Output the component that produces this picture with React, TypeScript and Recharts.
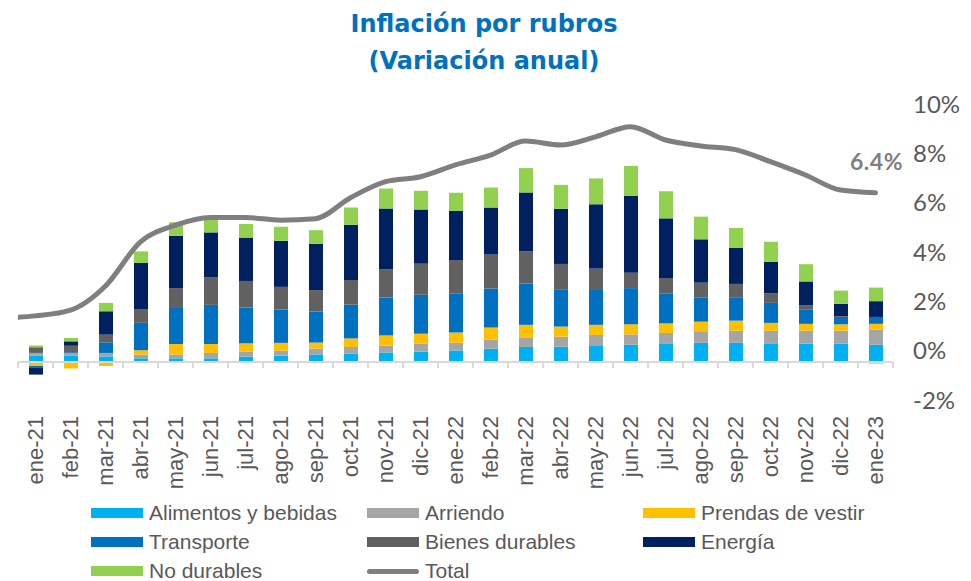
import React from 'react';
import {
  ComposedChart,
  Bar,
  Line,
  XAxis,
  YAxis,
  ReferenceLine,
  Legend,
  LabelList,
} from 'recharts';

const categories = ['ene-21','feb-21','mar-21','abr-21','may-21','jun-21','jul-21','ago-21','sep-21','oct-21','nov-21','dic-21','ene-22','feb-22','mar-22','abr-22','may-22','jun-22','jul-22','ago-22','sep-22','oct-22','nov-22','dic-22','ene-23'];

const alimentos = [0.25,0.27,0.23,0.15,0.15,0.15,0.22,0.26,0.31,0.35,0.39,0.42,0.47,0.54,0.61,0.62,0.68,0.70,0.76,0.78,0.78,0.76,0.74,0.74,0.70];
const arriendo = [0.12,0.09,0.14,0.15,0.15,0.22,0.20,0.20,0.24,0.26,0.28,0.32,0.31,0.37,0.37,0.41,0.42,0.42,0.42,0.47,0.49,0.51,0.53,0.53,0.61];
const prendas = [-0.16,-0.26,-0.16,0.18,0.43,0.36,0.34,0.32,0.24,0.35,0.41,0.41,0.42,0.49,0.53,0.41,0.41,0.41,0.39,0.39,0.41,0.32,0.28,0.26,0.24];
const transporte = [-0.08,0.04,0.43,1.11,1.50,1.59,1.45,1.35,1.26,1.37,1.54,1.58,1.57,1.58,1.68,1.49,1.45,1.47,1.22,0.97,0.95,0.81,0.57,0.30,0.28];
const bienesDurables = [0.23,0.26,0.31,0.54,0.77,1.11,1.08,0.92,0.87,1.00,1.15,1.26,1.37,1.38,1.31,1.05,0.84,0.62,0.62,0.61,0.54,0.39,0.19,0.03,-0.05];
const energia = [-0.27,0.18,0.95,1.89,2.12,1.83,1.76,1.87,1.88,2.24,2.46,2.20,1.99,1.91,2.38,2.24,2.60,3.12,2.42,1.76,1.47,1.28,0.96,0.50,0.64];
const noDurables = [0.07,0.14,0.34,0.47,0.55,0.51,0.55,0.57,0.55,0.70,0.81,0.76,0.74,0.81,0.99,0.97,1.05,1.22,1.10,0.92,0.80,0.81,0.70,0.54,0.55];
const total = [1.41,1.64,2.62,4.41,5.09,5.40,5.40,5.29,5.35,6.20,6.85,7.05,7.53,7.93,8.50,8.34,8.67,9.08,8.54,8.30,8.15,7.66,7.12,6.51,6.40];
// previous month (dic-20), only visible as the start of the line at the left edge
const totalPrev = 1.33;

const rightTicks = [-2, 0, 2, 4, 6, 8, 10];

const series = [
  { key: 'alimentos', name: 'Alimentos y bebidas', color: '#00B0F0' },
  { key: 'arriendo', name: 'Arriendo', color: '#A5A5A5' },
  { key: 'prendas', name: 'Prendas de vestir', color: '#FFC000' },
  { key: 'transporte', name: 'Transporte', color: '#0070C0' },
  { key: 'bienes', name: 'Bienes durables', color: '#616161' },
  { key: 'energia', name: 'Energía', color: '#002060' },
  { key: 'noDurables', name: 'No durables', color: '#92D050' },
];

const data = categories.map((cat, i) => ({
  cat,
  alimentos: alimentos[i],
  arriendo: arriendo[i],
  prendas: prendas[i],
  transporte: transporte[i],
  bienes: bienesDurables[i],
  energia: energia[i],
  noDurables: noDurables[i],
}));

const lineData = [
  { idx: -1, total: totalPrev },
  ...total.map((v, i) => ({ idx: i, total: v })),
];

const GRAY_TEXT = '#595959';

const XTick = (props: any) => {
  const { x, y, payload } = props;
  return (
    <text
      x={0}
      y={0}
      dy="0.36em"
      textAnchor="end"
      transform={`translate(${x},${y}) rotate(-90)`}
      fill={GRAY_TEXT}
      fontFamily="'Liberation Sans', Arial, sans-serif"
      fontSize={22}
    >
      {payload.value}
    </text>
  );
};

const AxisShape = (props: any) => {
  const { x1, y1, x2 } = props;
  const n = categories.length;
  const step = (x2 - x1) / n;
  const marks = [];
  for (let k = 0; k <= n; k++) {
    const xx = x1 + k * step;
    marks.push(<line key={k} x1={xx} x2={xx} y1={y1} y2={y1 + 6} stroke="#D9D9D9" strokeWidth={2} />);
  }
  return (
    <g>
      <line x1={x1} x2={x2} y1={y1} y2={y1} stroke="#D9D9D9" strokeWidth={2} />
      {marks}
    </g>
  );
};

const LastLabel = (props: any) => {
  const { x, y, index, value } = props;
  if (index !== lineData.length - 1) return null;
  return (
    <text
      x={x + 1}
      y={y - 32}
      textAnchor="middle"
      dominantBaseline="central"
      fill="#7F7F7F"
      fontFamily="Lato, sans-serif"
      fontWeight={700}
      fontSize={23}
      letterSpacing={0.5}
    >
      {`${Number(value).toFixed(1)}%`}
    </text>
  );
};

const legendItems = [
  ...series.map((s) => ({ name: s.name, color: s.color, line: false })),
  { name: 'Total', color: '#7F7F7F', line: true },
];

const LegendContent = () => {
  const colX = [91, 367, 643];
  const rowY = [15, 44, 73];
  return (
    <div style={{ position: 'relative', width: 971, height: 83 }}>
      {legendItems.map((it, i) => {
        const col = i % 3;
        const row = Math.floor(i / 3);
        return (
          <div
            key={it.name}
            style={{
              position: 'absolute',
              left: colX[col],
              top: rowY[row] - 13,
              height: 26,
              display: 'flex',
              alignItems: 'center',
              whiteSpace: 'nowrap',
            }}
          >
            <span
              style={{
                display: 'inline-block',
                width: 52,
                height: it.line ? 5 : 10,
                borderRadius: it.line ? 3 : 0,
                background: it.color,
                marginRight: 6,
              }}
            />
            <span
              style={{
                fontFamily: "'Liberation Sans', Arial, sans-serif",
                fontSize: 21,
                lineHeight: '26px',
                color: GRAY_TEXT,
              }}
            >
              {it.name}
            </span>
          </div>
        );
      })}
    </div>
  );
};

export default function App() {
  return (
    <div style={{ position: 'absolute', left: 0, top: 0, width: 971, height: 581, background: '#fff', overflow: 'hidden' }}>
      <div
        style={{
          position: 'absolute',
          left: 0,
          top: 6,
          width: 968,
          textAlign: 'center',
          fontFamily: "'DejaVu Sans', sans-serif",
          fontWeight: 700,
          fontSize: 24,
          lineHeight: '37px',
          color: '#0070C0',
          zIndex: 2,
        }}
      >
        <div>Inflación por rubros</div>
        <div>(Variación anual)</div>
      </div>
      <ComposedChart
        width={971}
        height={581}
        data={data}
        stackOffset="sign"
        barCategoryGap={0}
        margin={{ top: 104, right: 0, bottom: 151, left: 18 }}
      >
        <XAxis
          dataKey="cat"
          interval={0}
          axisLine={false}
          tickLine={false}
          tickSize={0}
          tickMargin={16}
          height={30}
          tick={<XTick />}
        />
        <XAxis
          xAxisId="lineX"
          dataKey="idx"
          type="number"
          domain={[-0.5, categories.length - 0.5]}
          allowDataOverflow
          hide
        />
        <YAxis yAxisId="bars" hide domain={[-1.54, 10.47]} allowDataOverflow type="number" />
        <YAxis
          yAxisId="line"
          orientation="right"
          domain={[-2, 10]}
          ticks={rightTicks}
          type="number"
          width={78}
          axisLine={false}
          tickLine={false}
          tickSize={0}
          tickMargin={20}
          tickFormatter={(v: number) => `${v}%`}
          tick={{ fill: GRAY_TEXT, fontSize: 24, fontFamily: 'Lato, sans-serif', textAnchor: 'start' }}
        />
        <ReferenceLine yAxisId="bars" y={0} shape={(p: any) => <AxisShape {...p} />} />
        {series.map((s) => (
          <Bar
            key={s.key}
            dataKey={s.key}
            name={s.name}
            yAxisId="bars"
            stackId="a"
            fill={s.color}
            barSize={14}
            isAnimationActive={false}
          />
        ))}
        <Line
          data={lineData}
          xAxisId="lineX"
          yAxisId="line"
          dataKey="total"
          name="Total"
          type="monotone"
          stroke="#7F7F7F"
          strokeWidth={5}
          strokeLinecap="round"
          dot={false}
          activeDot={false}
          isAnimationActive={false}
        >
          <LabelList dataKey="total" content={<LastLabel />} />
        </Line>
        <Legend
          verticalAlign="middle"
          align="center"
          layout="horizontal"
          wrapperStyle={{ top: 498, left: 0, width: 971, height: 83 }}
          content={() => <LegendContent />}
        />
      </ComposedChart>
    </div>
  );
}
